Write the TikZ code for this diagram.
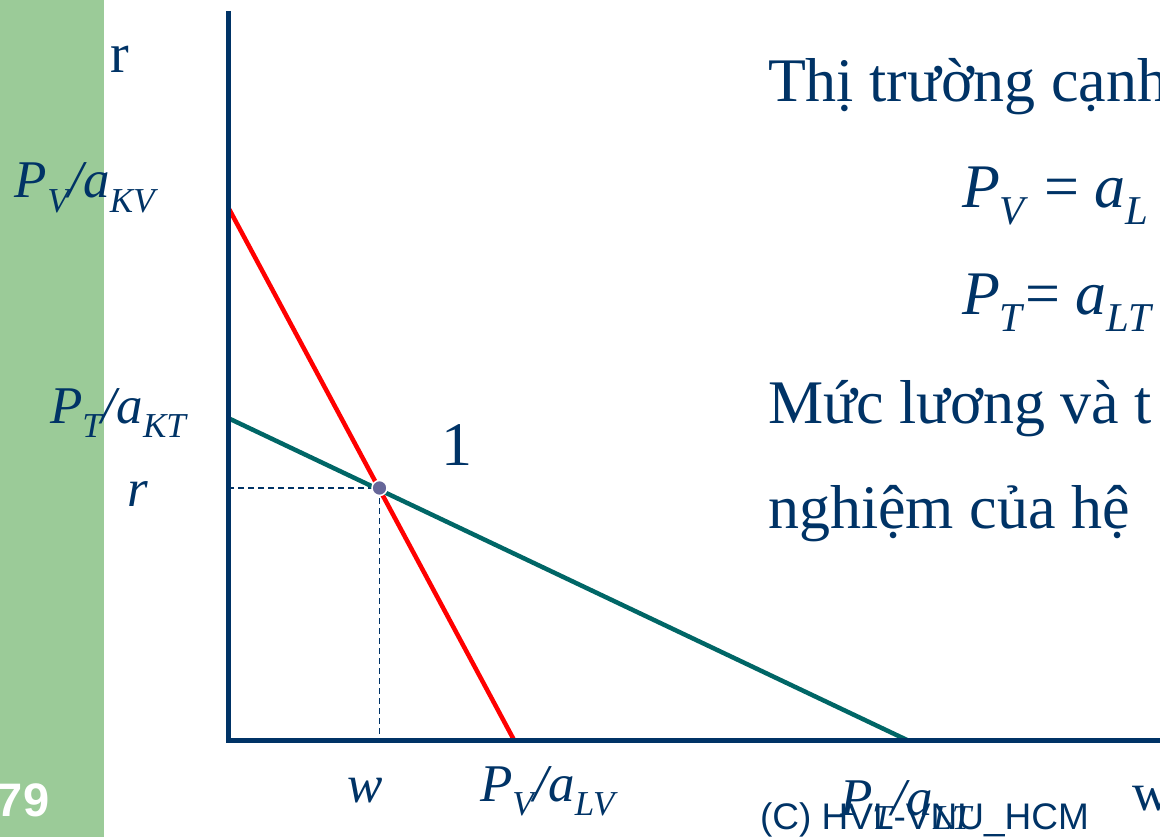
\documentclass[tikz,border=0pt]{standalone}
\usepackage{fontspec}
\setmainfont{Liberation Serif}
\newfontfamily\arialfont{Liberation Sans}
\definecolor{navy}{RGB}{0,51,102}
\definecolor{bandgreen}{RGB}{155,203,152}
\definecolor{tealline}{RGB}{0,102,102}
\definecolor{dotfill}{RGB}{102,102,153}
\newcommand\mysub[1]{\raisebox{-0.27em}{\scalebox{0.66}{#1}}}
\newcommand\fsz[1]{\fontsize{#1}{#1}\selectfont}
\begin{document}
\begin{tikzpicture}[x=1pt,y=-1pt,
  lbl/.style={inner sep=0pt,outer sep=0pt,anchor=base west,text=navy},
  axisline/.style={draw=navy,line width=5pt},
  redline/.style={draw=red,line width=4.5pt},
  tline/.style={draw=tealline,line width=4.5pt},
  guide/.style={draw=navy,line width=1.3pt,dash pattern=on 6pt off 4pt}]
\useasboundingbox (0,0) rectangle (1160,837);
\clip (0,0) rectangle (1160,837);
\fill[bandgreen] (0,0) rectangle (104,837);
\coordinate (O) at (228,740);
\coordinate (Ytop) at (228,11);
\coordinate (Xend) at (1170,740);
\coordinate (Vtop) at (228,207);
\coordinate (Vbot) at (514,740);
\coordinate (Ttop) at (228,418);
\coordinate (Tbot) at (907,740);
\coordinate (E) at (379.5,488);
% dashed guides
\draw[guide] (O |- E) -- (E);
\draw[guide] (E) -- (E |- O);
% lines
\draw[redline] (Vtop) -- (Vbot);
\draw[tline] (Ttop) -- (Tbot);
% axes
\draw[axisline] (Ytop) -- (O) -- (Xend);
% equilibrium dot
\node[circle,fill=dotfill,draw=white,line width=1.5pt,minimum size=15pt,inner sep=0pt] (dot) at (E) {};
% axis labels
\node[lbl] (rtop) at (110,73) {\fsz{56}r};
\node[lbl] (pvkv) at (15,198) {\fsz{53}\itshape P\mysub{V}/a\mysub{KV}};
\node[lbl] (ptkt) at (50,423) {\fsz{53}\itshape P\mysub{T}/a\mysub{KT}};
\node[lbl] (rr) at (127,506) {\fsz{53}\itshape r};
\node[lbl] (one) at (441,465) {\fsz{62}1};
\node[lbl] (ww) at (347,802) {\fsz{53}\itshape w};
\node[lbl] (pvlv) at (480,801) {\fsz{53}\itshape P\mysub{V}/a\mysub{LV}};
\node[lbl] (ptlt) at (840,815) {\fsz{53}\itshape P\mysub{T}/a\mysub{LT}};
\node[lbl] (wend) at (1132,810) {\fsz{53}w};
% right text
\node[lbl] (t1) at (768,102) {\fsz{62}Thị trường cạnh};
\node[lbl] (t2) at (962,208) {\fsz{62}\textit{P}\mysub{\textit{V}} = \textit{a}\mysub{\textit{L}}};
\node[lbl] (t3) at (962,315) {\fsz{62}\textit{P}\mysub{\textit{T}}= \textit{a}\mysub{\textit{LT}}};
\node[lbl] (t4) at (768,423) {\fsz{62}Mức lương và t};
\node[lbl] (t5) at (768,528) {\fsz{62}nghiệm của hệ};
% footer
\node[lbl] (copy) at (760,829) {\arialfont\fsz{37}(C) HVL-VNU\_HCM};
\node[lbl,text=white] (num) at (-3,816) {\arialfont\bfseries\fsz{47}79};
\end{tikzpicture}
\end{document}
